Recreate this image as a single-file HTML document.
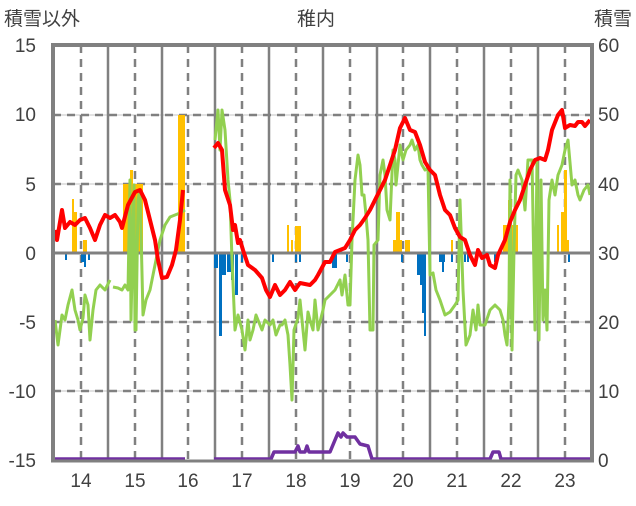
<!DOCTYPE html>
<html><head><meta charset="utf-8"><style>
html,body{margin:0;padding:0;background:#fff;}
svg text{font-family:"Liberation Sans","Noto Sans CJK JP",sans-serif;fill:#404040;font-size:19px;}
</style></head><body>
<svg width="636" height="501" viewBox="0 0 636 501" xmlns="http://www.w3.org/2000/svg">
<rect width="636" height="501" fill="#fff"/>
<!-- grid -->
<g stroke="#d9d9d9" stroke-width="1.5">
<line x1="53" y1="115" x2="592" y2="115"/><line x1="53" y1="184" x2="592" y2="184"/>
<line x1="53" y1="322" x2="592" y2="322"/><line x1="53" y1="391" x2="592" y2="391"/>
</g>
<g stroke="#808080" stroke-width="2.5" stroke-dasharray="8,6">
<line x1="53" y1="115" x2="592" y2="115"/><line x1="53" y1="184" x2="592" y2="184"/>
<line x1="53" y1="322" x2="592" y2="322"/><line x1="53" y1="391" x2="592" y2="391"/>
<line x1="81" y1="45" x2="81" y2="460"/><line x1="135" y1="45" x2="135" y2="460"/>
<line x1="188" y1="45" x2="188" y2="460"/><line x1="242" y1="45" x2="242" y2="460"/>
<line x1="296" y1="45" x2="296" y2="460"/><line x1="350" y1="45" x2="350" y2="460"/>
<line x1="403" y1="45" x2="403" y2="460"/><line x1="457" y1="45" x2="457" y2="460"/>
<line x1="511" y1="45" x2="511" y2="460"/><line x1="565" y1="45" x2="565" y2="460"/>
</g>
<g stroke="#808080" stroke-width="2.5">
<line x1="108" y1="45" x2="108" y2="460"/><line x1="162" y1="45" x2="162" y2="460"/>
<line x1="215" y1="45" x2="215" y2="460"/><line x1="269" y1="45" x2="269" y2="460"/>
<line x1="323" y1="45" x2="323" y2="460"/><line x1="377" y1="45" x2="377" y2="460"/>
<line x1="430" y1="45" x2="430" y2="460"/><line x1="484" y1="45" x2="484" y2="460"/>
<line x1="538" y1="45" x2="538" y2="460"/>
</g>
<!-- bars -->
<g fill="#ffc000">
<rect x="72" y="199" width="2" height="54"/><rect x="74" y="212" width="3" height="41"/>
<rect x="83" y="240" width="4" height="13"/>
<rect x="123" y="184" width="7" height="69"/><rect x="130" y="170" width="3" height="83"/>
<rect x="133" y="184" width="10" height="69"/>
<rect x="178" y="115" width="7" height="138"/>
<rect x="287" y="225" width="2" height="28"/><rect x="291" y="240" width="2" height="13"/>
<rect x="295" y="226" width="6" height="27"/>
<rect x="393" y="240" width="3" height="13"/><rect x="396" y="212" width="4" height="41"/>
<rect x="400" y="240" width="2" height="13"/><rect x="405" y="240" width="5" height="13"/>
<rect x="451" y="240" width="2" height="13"/>
<rect x="503" y="225" width="5" height="28"/><rect x="508" y="200" width="4" height="53"/>
<rect x="512" y="225" width="6" height="28"/>
<rect x="557" y="225" width="2" height="28"/><rect x="561" y="212" width="3" height="41"/>
<rect x="564" y="170" width="3" height="83"/><rect x="567" y="240" width="2" height="13"/>
</g>
<g fill="#0070c0">
<rect x="65" y="253" width="2" height="7"/><rect x="81" y="253" width="4" height="9"/>
<rect x="84" y="253" width="2" height="14"/><rect x="88" y="253" width="2" height="7"/>
<rect x="214" y="253" width="4" height="15"/><rect x="219" y="253" width="3" height="83"/>
<rect x="222" y="253" width="4" height="22"/><rect x="227" y="253" width="4" height="19"/>
<rect x="231" y="253" width="3" height="27"/><rect x="235" y="253" width="3" height="42"/>
<rect x="241" y="253" width="2" height="9"/><rect x="272" y="253" width="2" height="9"/>
<rect x="295" y="253" width="2" height="9"/><rect x="299" y="253" width="2" height="9"/>
<rect x="332" y="253" width="5" height="15"/><rect x="346" y="253" width="2" height="9"/>
<rect x="401" y="253" width="2" height="9"/>
<rect x="417" y="253" width="5" height="22"/><rect x="420" y="253" width="2" height="32"/>
<rect x="422" y="253" width="2" height="60"/><rect x="424" y="253" width="2" height="83"/>
<rect x="439" y="253" width="6" height="9"/><rect x="442" y="253" width="2" height="19"/>
<rect x="451" y="253" width="2" height="9"/><rect x="464" y="253" width="2" height="9"/>
<rect x="467" y="253" width="2" height="9"/><rect x="494" y="253" width="2" height="9"/>
<rect x="512" y="253" width="2" height="9"/><rect x="568" y="253" width="2" height="9"/>
</g>
<line x1="53" y1="253" x2="592" y2="253" stroke="#808080" stroke-width="3"/>
<!-- green -->
<g fill="none" stroke="#92d050" stroke-width="3" stroke-linejoin="round">
<polyline points="55,320 58,345 62,315 65,320 68,305 72,290 75,310 78,320 80,330 83,318 85,295 88,305 90,340 93,310 96,290 100,285 105,290 110,280"/>
<polyline points="113,287 118,288 122,290 125,285 128,290 130,180 131,320 134,185 135,330 136,330 138,200 140,190 143,315 146,300 150,290 155,265 160,240 165,225 170,217 175,215 180,213 185,210"/>
<polyline points="215,140 218,110 220,150 222,110 225,130 228,180 230,200 232,260 235,330 238,315 242,330 245,350 248,320 250,340 253,330 256,315 260,325 262,330 265,320 270,325 273,320 276,335 280,325 282,325 285,320 288,335 290,365 292,400 294,330 298,318 300,300 305,350 308,312 310,320 313,330 315,300 318,330 320,322 323,310 325,300 330,295 335,290 340,280 342,295 345,275 348,305 350,305 352,240 355,180 358,155 360,165 362,195 364,195 366,215 368,240 370,330 373,330 374,245 378,240 380,175 383,160 385,175 387,210 390,220 393,150 395,160 396,185 400,145 403,160 406,150 410,145 412,140 415,150 418,145 420,160 422,165 425,170 428,168 430,275 433,273 436,290 440,300 445,315 450,312 455,305 458,300 460,200 463,290 466,345 470,335 473,310 476,330 478,305 480,325 485,325 490,310 495,305 500,310 503,320 505,335 507,345 509,300 510,180 512,350 514,250 516,175 518,170 522,180 525,210 528,160 532,160 535,330 537,160 539,340 541,180 543,320 545,290 547,330 549,200 552,180 555,195 558,175 562,165 565,150 568,140 572,185 575,180 578,195 580,200 584,190 588,185 590,195"/>
</g>
<!-- red -->
<g fill="none" stroke="#ff0000" stroke-width="4" stroke-linejoin="round">
<polyline points="55,230 57,240 62,210 65,228 70,222 75,225 80,220 85,218 90,228 95,240 100,225 105,215 110,218 115,215 120,222 122,228 128,205 135,192 140,190 145,200 150,220 155,240 158,260 162,278 167,277 172,265 176,250 180,220 183,190"/>
<polyline points="214,148 218,143 222,150 225,190 230,205 233,230 235,225 238,243 240,240 243,250 248,265 255,270 262,278 266,290 270,297 275,285 280,295 285,290 290,282 295,290 300,283 310,285 315,280 318,275 325,262 330,262 335,252 340,250 345,248 350,240 355,230 360,225 365,218 370,210 375,200 380,190 385,180 390,165 395,150 400,128 405,118 410,130 415,132 420,145 425,162 430,170 435,175 440,195 445,210 450,215 455,228 460,237 465,240 470,255 475,265 478,250 482,258 487,255 490,265 495,268 498,255 505,240 510,222 515,210 520,200 525,185 530,170 535,160 540,158 545,160 548,150 552,130 558,115 562,110 565,128 570,125 575,126 578,122 582,122 585,126 590,120"/>
</g>
<!-- purple -->
<g fill="none" stroke="#7030a0" stroke-width="3.5" stroke-linejoin="round">
<polyline points="55,459 185,459"/>
<polyline points="214,459 271,459 274,452 295,452 298,446 300,452 305,452 307,446 309,452 330,452 335,440 338,433 341,437 343,433 347,437 355,437 360,444 368,446 372,459 490,459 493,452 499,452 501,459 590,459"/>
</g>
<!-- frame -->
<path d="M53,460 L53,45 L592,45 L592,460" fill="none" stroke="#808080" stroke-width="4"/>
<line x1="51" y1="461" x2="594" y2="461" stroke="#808080" stroke-width="3"/>
<!-- labels -->
<text x="4" y="25">積雪以外</text>
<text x="316" y="25" text-anchor="middle">稚内</text>
<text x="632" y="25" text-anchor="end">積雪</text>
<g text-anchor="end">
<text x="36" y="52">15</text><text x="36" y="121">10</text><text x="36" y="191">5</text>
<text x="36" y="260">0</text><text x="36" y="329">-5</text><text x="36" y="398">-10</text><text x="36" y="467">-15</text>
</g>
<g>
<text x="598" y="52">60</text><text x="598" y="121">50</text><text x="598" y="191">40</text>
<text x="598" y="260">30</text><text x="598" y="329">20</text><text x="598" y="398">10</text><text x="598" y="467">0</text>
</g>
<g text-anchor="middle">
<text x="81" y="487">14</text><text x="135" y="487">15</text><text x="188" y="487">16</text>
<text x="242" y="487">17</text><text x="296" y="487">18</text><text x="350" y="487">19</text>
<text x="403" y="487">20</text><text x="457" y="487">21</text><text x="511" y="487">22</text><text x="565" y="487">23</text>
</g>
</svg>
</body></html>
